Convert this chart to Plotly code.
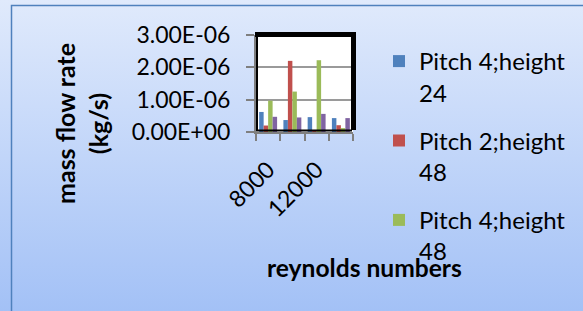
import base64
import plotly.graph_objects as go

# ---- data ----
reynolds = ["8000", "10000", "12000", "14000"]
x_tick_labels = ["8000", "", "12000", ""]
series_names = ["Pitch 4;height 24", "Pitch 2;height 48", "Pitch 4;height 48", "Pitch 2;height 24"]
pitch4_h24 = [0.62e-6, 0.37e-6, 0.46e-6, 0.43e-6]
pitch2_h48 = [0.20e-6, 2.20e-6, 0.06e-6, 0.21e-6]
pitch4_h48 = [0.97e-6, 1.25e-6, 2.22e-6, 0.12e-6]
pitch2_h24 = [0.47e-6, 0.45e-6, 0.56e-6, 0.43e-6]
y_tick_vals = [0, 1e-6, 2e-6, 3e-6]
y_tick_labels = ["0.00E+00", "1.00E-06", "2.00E-06", "3.00E-06"]

series_values = [pitch4_h24, pitch2_h48, pitch4_h48, pitch2_h24]
colors = ["#4f81bd", "#c0504d", "#9bbb59", "#8064a2"]
show_in_legend = [True, True, True, False]

W, H = 583, 311
L, R, T, B = 256, 353, 35, 132
pw, ph = R - L, B - T


def px(x):
    return (x - L) / pw


def py(y):
    return (B - y) / ph


FONT = "Lato"

fig = go.Figure()
for i, (name, vals) in enumerate(zip(series_names, series_values)):
    fig.add_trace(go.Bar(
        x=reynolds, y=vals, name=name.replace("height ", "height<br>"),
        marker=dict(color=colors[i], line=dict(width=0)),
        showlegend=show_in_legend[i], legendgroup=f"g{i}",
    ))

svg = ('<svg xmlns="http://www.w3.org/2000/svg" width="583" height="311" preserveAspectRatio="none">'
       '<defs><linearGradient id="g" x1="0" y1="0" x2="0" y2="1">'
       '<stop offset="0" stop-color="#e0eafc"/><stop offset="1" stop-color="#a3c1f6"/>'
       '</linearGradient></defs><rect width="583" height="311" fill="url(#g)"/></svg>')
src = "data:image/svg+xml;base64," + base64.b64encode(svg.encode()).decode()

shapes = [
    # white plot area (above background image)
    dict(type="rect", xref="paper", yref="paper", x0=px(256), x1=px(353), y0=py(132), y1=py(35),
         fillcolor="white", line=dict(width=0), layer="below"),
    # outer chart border
    dict(type="rect", xref="paper", yref="paper", x0=px(11.5), x1=px(700), y0=py(400), y1=py(5.5),
         fillcolor="rgba(0,0,0,0)", line=dict(color="#4f81bd", width=1.5), layer="above"),
    # 3D frame: thick black top and right
    dict(type="line", xref="paper", yref="paper", x0=px(255), x1=px(356), y0=py(34.5), y1=py(34.5),
         line=dict(color="black", width=5), layer="above"),
    dict(type="line", xref="paper", yref="paper", x0=px(353.5), x1=px(353.5), y0=py(130), y1=py(32),
         line=dict(color="black", width=5), layer="above"),
    dict(type="line", xref="paper", yref="paper", x0=px(257), x1=px(257), y0=py(131), y1=py(35),
         line=dict(color="black", width=2), layer="above"),
    dict(type="line", xref="paper", yref="paper", x0=px(256), x1=px(352), y0=py(130.5), y1=py(130.5),
         line=dict(color="black", width=2), layer="above"),
]

fig.update_layout(
    width=W, height=H,
    margin=dict(l=L, r=W - R, t=T, b=H - B, pad=0, autoexpand=False),
    paper_bgcolor="#c4d7f9", plot_bgcolor="rgba(0,0,0,0)",
    font=dict(family=FONT, color="black"),
    barmode="group", bargap=0.26, bargroupgap=0,
    images=[dict(source=src, xref="paper", yref="paper", x=px(0), y=py(0),
                 sizex=W / pw, sizey=H / ph, xanchor="left", yanchor="top",
                 sizing="stretch", layer="below")],
    shapes=shapes,
    xaxis=dict(
        type="category", tickmode="array", tickvals=reynolds, ticktext=x_tick_labels,
        tickson="boundaries", ticks="outside", ticklen=7, tickwidth=2, tickcolor="#7f7f7f",
        showline=True, linecolor="#7f7f7f", linewidth=2, showgrid=False,
        tickangle=-45, tickfont=dict(family=FONT, size=23, color="black"),
        ticklabelstandoff=13, automargin=False,
    ),
    yaxis=dict(
        range=[0, 3e-6], tickmode="array", tickvals=y_tick_vals, ticktext=y_tick_labels,
        ticks="outside", ticklen=8, tickwidth=2, tickcolor="#7f7f7f",
        showline=True, linecolor="#7f7f7f", linewidth=2,
        showgrid=True, gridcolor="#9a9a9a", gridwidth=2, zeroline=False,
        tickfont=dict(family=FONT, size=23, color="black"), ticklabelstandoff=11,
        automargin=False,
    ),
    legend=dict(
        x=px(379), xanchor="left", y=py(39), yanchor="top",
        bgcolor="rgba(0,0,0,0)", borderwidth=0, valign="top",
        traceorder="grouped", tracegroupgap=14, maxheight=2000,
        font=dict(family=FONT, size=24, color="black"),
    ),
    annotations=[
        dict(text="<b>mass flow rate<br>(kg/s)</b>", xref="paper", yref="paper",
             x=px(81), y=py(124), xanchor="center", yanchor="middle", textangle=-90,
             showarrow=False, font=dict(family=FONT, size=25, color="black")),
        dict(text="<b>reynolds numbers</b>", xref="paper", yref="paper",
             x=px(364), y=py(267), xanchor="center", yanchor="middle",
             showarrow=False, font=dict(family=FONT, size=24.6, color="black")),
    ],
)

fig.write_html("out.html", config={"displayModeBar": False},
               post_script="document.body.style.margin='0';")
